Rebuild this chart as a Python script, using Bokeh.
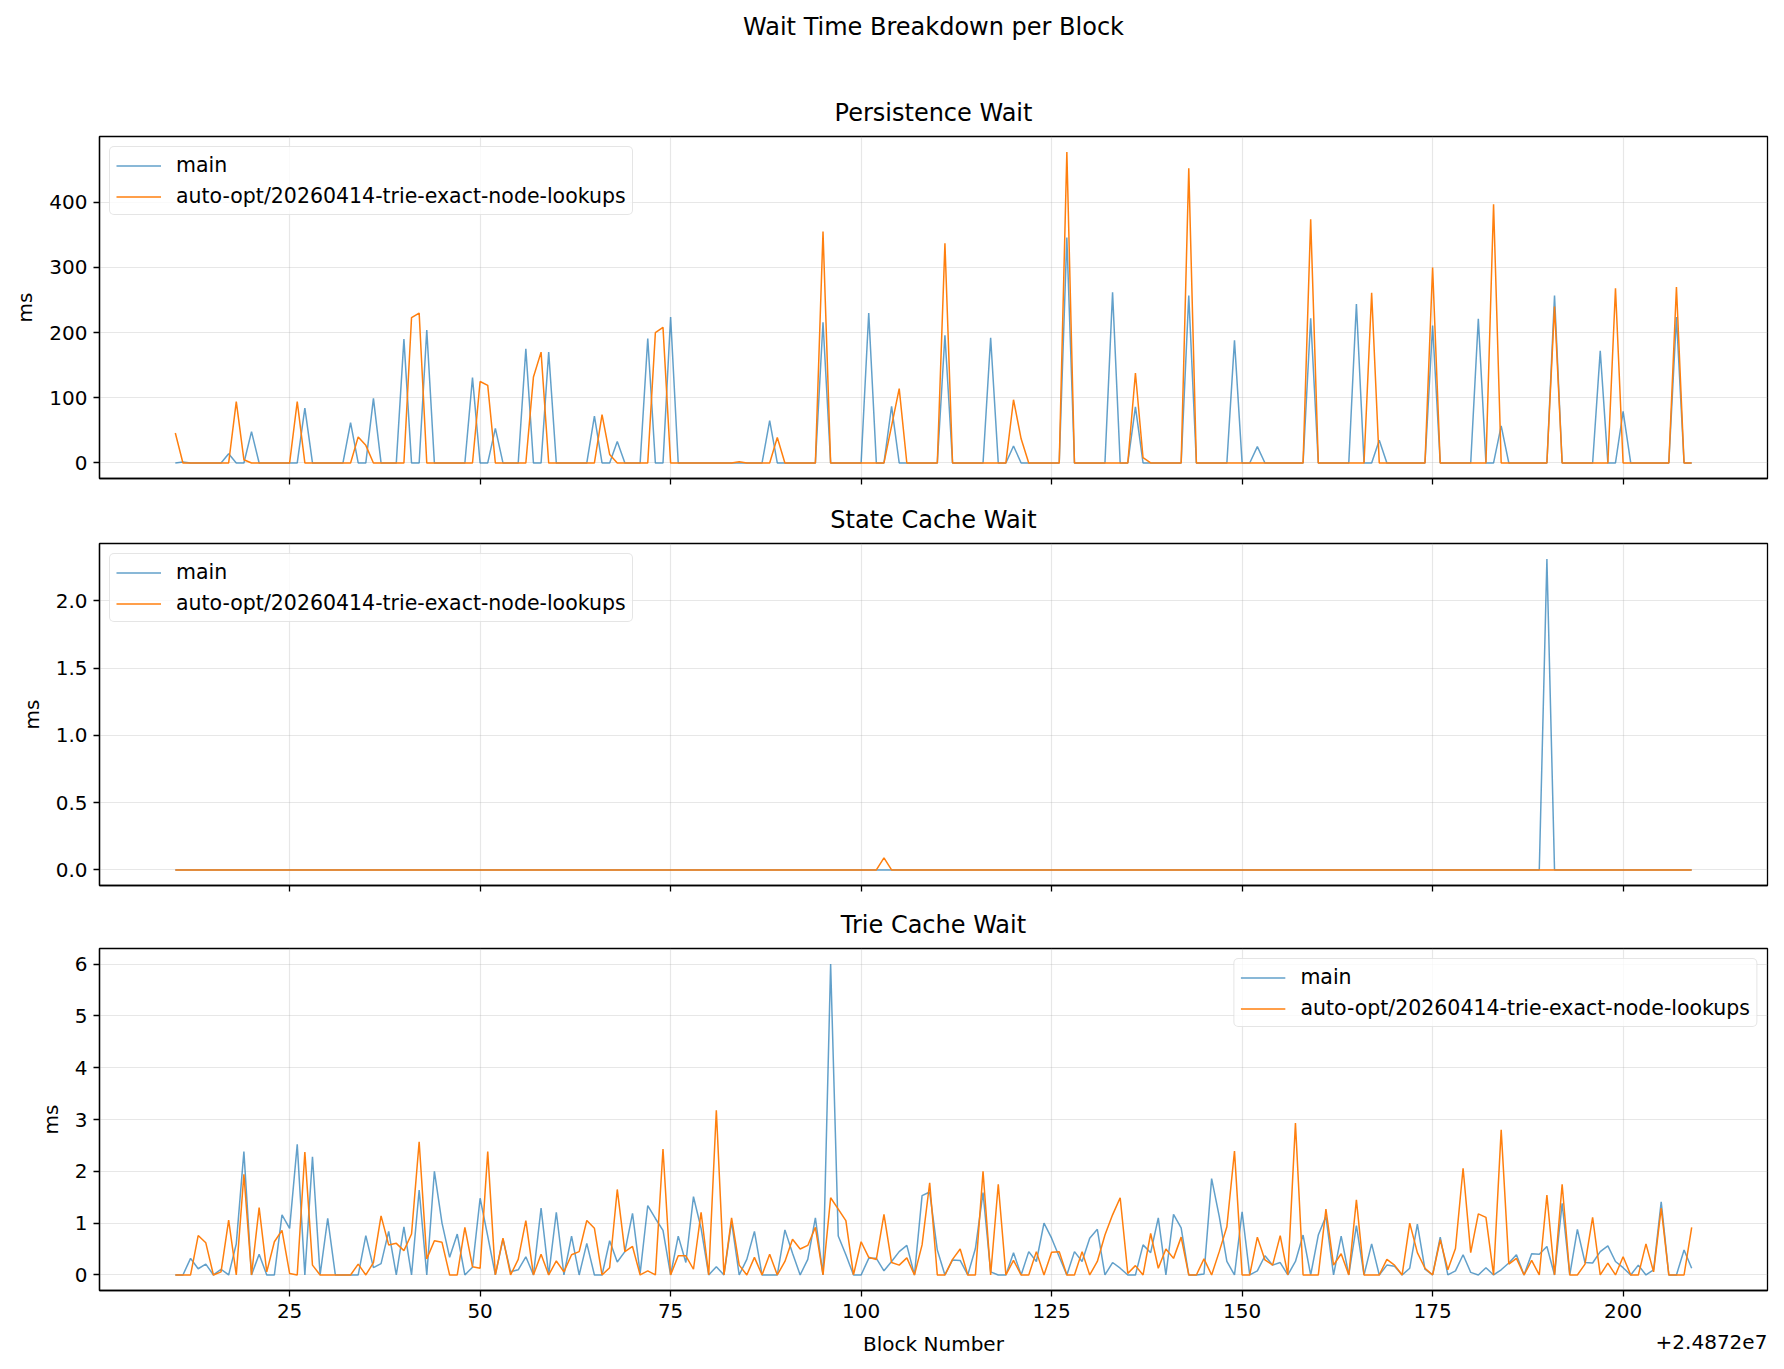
from bokeh.plotting import figure
from bokeh.models import (Range1d, FixedTicker, Title, NumeralTickFormatter, LinearAxis,
                          CustomJSTickFormatter)
from bokeh.layouts import column
from bokeh.embed import file_html
from bokeh.resources import INLINE

BASE = 24872000
blocks = list(range(24872010, 24872210))
series_names = ["main", "auto-opt/20260414-trie-exact-node-lookups"]
x_tick_values = [25, 50, 75, 100, 125, 150, 175, 200]
offset_text = "+2.4872e7"
suptitle = "Wait Time Breakdown per Block"

persist_main = [
    0, 1.5, 0, 0, 0, 0, 0, 14, 0, 0,
    48, 0, 0, 0, 0, 0, 0, 84, 0, 0,
    0, 0, 0, 62, 0, 0, 99, 0, 0, 0,
    190, 0, 0, 204, 0, 0, 0, 0, 0, 131,
    0, 0, 53, 0, 0, 0, 175, 0, 0, 170,
    0, 0, 0, 0, 0, 72, 0, 0, 33, 0,
    0, 0, 191, 0, 0, 224, 0, 0, 0, 0,
    0, 0, 0, 0, 0, 0, 0, 0, 65, 0,
    0, 0, 0, 0, 0, 216, 0, 0, 0, 0,
    0, 230, 0, 0, 87, 0, 0, 0, 0, 0,
    0, 196, 0, 0, 0, 0, 0, 192, 0, 0,
    26, 0, 0, 0, 0, 0, 0, 346, 0, 0,
    0, 0, 0, 262, 0, 0, 86, 0, 0, 0,
    0, 0, 0, 257, 0, 0, 0, 0, 0, 188,
    0, 0, 25, 0, 0, 0, 0, 0, 0, 222,
    0, 0, 0, 0, 0, 244, 0, 0, 35, 0,
    0, 0, 0, 0, 0, 211, 0, 0, 0, 0,
    0, 221, 0, 0, 57, 0, 0, 0, 0, 0,
    0, 257, 0, 0, 0, 0, 0, 172, 0, 0,
    79, 0, 0, 0, 0, 0, 0, 224, 0, 0,
]
persist_branch = [
    46, 0, 0, 0, 0, 0, 0, 0, 94, 5,
    0, 0, 0, 0, 0, 0, 94, 0, 0, 0,
    0, 0, 0, 0, 40, 27, 0, 0, 0, 0,
    0, 223, 230, 0, 0, 0, 0, 0, 0, 0,
    125, 119, 0, 0, 0, 0, 0, 132, 170, 0,
    0, 0, 0, 0, 0, 0, 74, 13, 0, 0,
    0, 0, 0, 200, 208, 0, 0, 0, 0, 0,
    0, 0, 0, 0, 2, 0, 0, 0, 0, 39,
    0, 0, 0, 0, 0, 355, 0, 0, 0, 0,
    0, 0, 0, 0, 57, 114, 0, 0, 0, 0,
    0, 337, 0, 0, 0, 0, 0, 0, 0, 0,
    97, 37, 0, 0, 0, 0, 0, 477, 0, 0,
    0, 0, 0, 0, 0, 0, 138, 8, 0, 0,
    0, 0, 0, 452, 0, 0, 0, 0, 0, 0,
    0, 0, 0, 0, 0, 0, 0, 0, 0, 374,
    0, 0, 0, 0, 0, 0, 0, 261, 0, 0,
    0, 0, 0, 0, 0, 300, 0, 0, 0, 0,
    0, 0, 0, 397, 0, 0, 0, 0, 0, 0,
    0, 240, 0, 0, 0, 0, 0, 0, 0, 268,
    0, 0, 0, 0, 0, 0, 0, 270, 0, 0,
]
state_main = [
    0, 0, 0, 0, 0, 0, 0, 0, 0, 0,
    0, 0, 0, 0, 0, 0, 0, 0, 0, 0,
    0, 0, 0, 0, 0, 0, 0, 0, 0, 0,
    0, 0, 0, 0, 0, 0, 0, 0, 0, 0,
    0, 0, 0, 0, 0, 0, 0, 0, 0, 0,
    0, 0, 0, 0, 0, 0, 0, 0, 0, 0,
    0, 0, 0, 0, 0, 0, 0, 0, 0, 0,
    0, 0, 0, 0, 0, 0, 0, 0, 0, 0,
    0, 0, 0, 0, 0, 0, 0, 0, 0, 0,
    0, 0, 0, 0, 0, 0, 0, 0, 0, 0,
    0, 0, 0, 0, 0, 0, 0, 0, 0, 0,
    0, 0, 0, 0, 0, 0, 0, 0, 0, 0,
    0, 0, 0, 0, 0, 0, 0, 0, 0, 0,
    0, 0, 0, 0, 0, 0, 0, 0, 0, 0,
    0, 0, 0, 0, 0, 0, 0, 0, 0, 0,
    0, 0, 0, 0, 0, 0, 0, 0, 0, 0,
    0, 0, 0, 0, 0, 0, 0, 0, 0, 0,
    0, 0, 0, 0, 0, 0, 0, 0, 0, 0,
    2.31, 0, 0, 0, 0, 0, 0, 0, 0, 0,
    0, 0, 0, 0, 0, 0, 0, 0, 0, 0,
]
state_branch = [
    0, 0, 0, 0, 0, 0, 0, 0, 0, 0,
    0, 0, 0, 0, 0, 0, 0, 0, 0, 0,
    0, 0, 0, 0, 0, 0, 0, 0, 0, 0,
    0, 0, 0, 0, 0, 0, 0, 0, 0, 0,
    0, 0, 0, 0, 0, 0, 0, 0, 0, 0,
    0, 0, 0, 0, 0, 0, 0, 0, 0, 0,
    0, 0, 0, 0, 0, 0, 0, 0, 0, 0,
    0, 0, 0, 0, 0, 0, 0, 0, 0, 0,
    0, 0, 0, 0, 0, 0, 0, 0, 0, 0,
    0, 0, 0, 0.09, 0, 0, 0, 0, 0, 0,
    0, 0, 0, 0, 0, 0, 0, 0, 0, 0,
    0, 0, 0, 0, 0, 0, 0, 0, 0, 0,
    0, 0, 0, 0, 0, 0, 0, 0, 0, 0,
    0, 0, 0, 0, 0, 0, 0, 0, 0, 0,
    0, 0, 0, 0, 0, 0, 0, 0, 0, 0,
    0, 0, 0, 0, 0, 0, 0, 0, 0, 0,
    0, 0, 0, 0, 0, 0, 0, 0, 0, 0,
    0, 0, 0, 0, 0, 0, 0, 0, 0, 0,
    0, 0, 0, 0, 0, 0, 0, 0, 0, 0,
    0, 0, 0, 0, 0, 0, 0, 0, 0, 0,
]
trie_main = [
    0, 0, 0.32, 0.12, 0.21, 0, 0.11, 0, 0.6, 2.38,
    0, 0.4, 0, 0, 1.16, 0.9, 2.52, 0, 2.28, 0,
    1.09, 0, 0, 0, 0, 0.76, 0.14, 0.22, 0.84, 0,
    0.93, 0, 1.64, 0, 2.0, 1.0, 0.34, 0.79, 0, 0.15,
    1.48, 0.75, 0, 0.69, 0.06, 0.1, 0.35, 0, 1.29, 0,
    1.21, 0, 0.75, 0, 0.61, 0, 0, 0.66, 0.25, 0.45,
    1.19, 0.03, 1.34, 1.09, 0.86, 0, 0.75, 0.24, 1.51, 0.9,
    0, 0.16, 0, 1.03, 0, 0.3, 0.84, 0, 0, 0,
    0.87, 0.42, 0, 0.3, 1.1, 0, 6.0, 0.75, 0.39, 0,
    0, 0.32, 0.32, 0.08, 0.26, 0.45, 0.57, 0, 1.53, 1.6,
    0.48, 0, 0.29, 0.28, 0, 0.51, 1.59, 0.06, 0, 0,
    0.43, 0, 0.45, 0.26, 1.0, 0.71, 0.35, 0, 0.45, 0.26,
    0.71, 0.88, 0, 0.24, 0.13, 0, 0, 0.58, 0.43, 1.1,
    0, 1.17, 0.91, 0, 0, 0.02, 1.86, 1.13, 0.26, 0,
    1.22, 0, 0.08, 0.37, 0.19, 0.24, 0, 0.26, 0.77, 0,
    0.77, 1.13, 0, 0.75, 0, 0.95, 0, 0.6, 0, 0.19,
    0.17, 0, 0.13, 0.98, 0.11, 0, 0.73, 0, 0.08, 0.39,
    0.05, 0, 0.14, 0, 0.1, 0.23, 0.39, 0, 0.41, 0.4,
    0.55, 0, 1.38, 0, 0.88, 0.24, 0.23, 0.45, 0.56, 0.26,
    0.14, 0, 0.19, 0, 0.1, 1.41, 0, 0, 0.48, 0.13,
]
trie_branch = [
    0, 0, 0, 0.76, 0.62, 0, 0.06, 1.06, 0, 1.94,
    0, 1.3, 0.06, 0.64, 0.86, 0.03, 0, 2.37, 0.19, 0,
    0, 0, 0, 0, 0.21, 0, 0.24, 1.14, 0.58, 0.61,
    0.47, 0.79, 2.57, 0.31, 0.66, 0.63, 0, 0, 0.92, 0.16,
    0.13, 2.38, 0, 0.71, 0, 0.3, 1.05, 0, 0.4, 0,
    0.27, 0.06, 0.39, 0.45, 1.05, 0.9, 0, 0.14, 1.65, 0.45,
    0.55, 0, 0.08, 0, 2.43, 0, 0.37, 0.37, 0.11, 1.21,
    0, 3.18, 0, 1.1, 0.19, 0, 0.34, 0, 0.4, 0,
    0.26, 0.69, 0.5, 0.57, 0.92, 0, 1.49, 1.27, 1.05, 0,
    0.64, 0.34, 0.3, 1.17, 0.24, 0.19, 0.33, 0, 0.58, 1.78,
    0, 0, 0.3, 0.5, 0, 0, 2.0, 0, 1.75, 0,
    0.28, 0, 0, 0.45, 0, 0.44, 0.45, 0, 0, 0.45,
    0, 0.26, 0.77, 1.16, 1.49, 0.03, 0.18, 0, 0.8, 0.13,
    0.5, 0.32, 0.73, 0, 0, 0.31, 0, 0.45, 0.93, 2.39,
    0, 0, 0.73, 0.29, 0.19, 0.76, 0, 2.93, 0, 0,
    0, 1.27, 0.19, 0.41, 0, 1.45, 0, 0, 0, 0.3,
    0.19, 0, 1.0, 0.43, 0.13, 0, 0.68, 0.1, 0.51, 2.06,
    0.43, 1.18, 1.11, 0, 2.8, 0.21, 0.32, 0, 0.28, 0,
    1.54, 0, 1.75, 0, 0, 0.21, 1.11, 0, 0.23, 0,
    0.35, 0, 0, 0.6, 0.06, 1.29, 0, 0, 0, 0.92,
]

panel_titles = ["Persistence Wait", "State Cache Wait", "Trie Cache Wait"]
y_ticks = [[0, 100, 200, 300, 400], [0, 0.5, 1.0, 1.5, 2.0], [0, 1, 2, 3, 4, 5, 6]]

FONT = "DejaVu Sans"
BLUE = "#1f77b4"
ORANGE = "#ff7f0e"
FRAME_W = 1668
FRAME_H = 342
TICK_FS = "20px"
LABEL_FS = "20px"
LEGEND_FS = "20.5px"
TITLE_FS = "24px"

span = blocks[-1] - blocks[0]
x_lo = blocks[0] - 0.05 * span
x_hi = blocks[-1] + 0.05 * span


def style_title(t, size, standoff):
    t.text_font = FONT
    t.text_font_size = size
    t.text_font_style = "normal"
    t.text_color = "black"
    t.align = "center"
    t.standoff = standoff


def make_panel(title, main, branch, yt, fmt, legend_loc, top_border, bottom_border, last, first=False):
    ymax = max(max(main), max(branch))
    pad = 0.05 * ymax
    p = figure(frame_width=FRAME_W, frame_height=FRAME_H,
               x_range=Range1d(x_lo, x_hi), y_range=Range1d(-pad, ymax + pad),
               output_backend="svg", toolbar_location=None,
               min_border_left=99, min_border_right=9,
               min_border_top=top_border, min_border_bottom=bottom_border)
    if first:
        # figure title is outermost; extra "above" panels stack outward from the frame
        p.title.text = suptitle
        style_title(p.title, TITLE_FS, 4)
        sub = Title(text=title)
        style_title(sub, TITLE_FS, 19)
        p.add_layout(sub, "above")
        spacer = Title(text=" ")
        style_title(spacer, "10px", 32)
        p.add_layout(spacer, "above")
    else:
        p.title.text = title
        style_title(p.title, TITLE_FS, 19)

    p.line(blocks, main, line_color=BLUE, line_alpha=0.7, line_width=1.5, legend_label=series_names[0])
    p.line(blocks, branch, line_color=ORANGE, line_alpha=1.0, line_width=1.5, legend_label=series_names[1])

    p.outline_line_color = "black"
    p.outline_line_width = 1.3
    p.background_fill_color = "white"
    p.border_fill_color = "white"

    p.xaxis.ticker = FixedTicker(ticks=[BASE + v for v in x_tick_values])
    p.xaxis.major_label_overrides = {BASE + v: str(v) for v in x_tick_values}
    p.yaxis.ticker = FixedTicker(ticks=yt)
    if fmt:
        p.yaxis.formatter = NumeralTickFormatter(format=fmt)

    for ax in (p.xaxis[0], p.yaxis[0]):
        ax.axis_line_color = "black"
        ax.axis_line_width = 1.3
        ax.major_tick_line_color = "black"
        ax.major_tick_line_width = 1.3
        ax.major_tick_out = 6
        ax.major_tick_in = 0
        ax.minor_tick_line_color = None
        ax.major_label_text_font = FONT
        ax.major_label_text_font_size = TICK_FS
        ax.major_label_text_color = "black"
        ax.axis_label_text_font = FONT
        ax.axis_label_text_font_size = LABEL_FS
        ax.axis_label_text_font_style = "normal"
        ax.axis_label_text_color = "black"
        ax.major_label_standoff = 6
    p.yaxis.axis_label = "ms"
    p.yaxis.axis_label_standoff = 9

    if last:
        p.xaxis.major_label_standoff = 7
        p.xaxis.axis_label = "Block Number"
        p.xaxis.axis_label_standoff = 11
        # offset text of the x axis, right-aligned with the frame
        text_w_px = 112.0
        x_off = x_hi - (text_w_px / 2.0) * (x_hi - x_lo) / FRAME_W
        off_axis = LinearAxis(ticker=FixedTicker(ticks=[x_off]),
                              formatter=CustomJSTickFormatter(code="return '%s';" % offset_text))
        off_axis.axis_line_color = None
        off_axis.major_tick_line_color = None
        off_axis.minor_tick_line_color = None
        off_axis.major_tick_out = 0
        off_axis.major_tick_in = 0
        off_axis.major_label_standoff = -24
        off_axis.major_label_text_font = FONT
        off_axis.major_label_text_font_size = TICK_FS
        off_axis.major_label_text_color = "black"
        p.add_layout(off_axis, "below")
    else:
        p.xaxis.major_label_text_font_size = "1px"
        p.xaxis.major_label_text_color = None
        p.xaxis.major_label_standoff = 0

    for g in (p.xgrid[0], p.ygrid[0]):
        g.grid_line_color = "#b0b0b0"
        g.grid_line_alpha = 0.3
        g.grid_line_width = 1.2

    lg = p.legend[0]
    lg.location = legend_loc
    lg.margin = 10
    lg.padding = 6
    lg.spacing = 7
    lg.glyph_width = 45
    lg.glyph_height = 23
    lg.label_height = 23
    lg.label_standoff = 15
    lg.label_text_font = FONT
    lg.label_text_font_size = LEGEND_FS
    lg.label_text_color = "black"
    lg.border_line_color = "#cccccc"
    lg.border_line_width = 1.5
    lg.background_fill_color = "white"
    lg.background_fill_alpha = 0.8
    if "border_radius" in lg.properties():
        lg.border_radius = 5
    return p


p1 = make_panel(panel_titles[0], persist_main, persist_branch, y_ticks[0], None, "top_left", 136, 12, False, first=True)
p2 = make_panel(panel_titles[1], state_main, state_branch, y_ticks[1], "0.0", "top_left", 53, 12, False)
p3 = make_panel(panel_titles[2], trie_main, trie_branch, y_ticks[2], None, "top_right", 51, 72, True)

layout = column(p1, p2, p3)
open("out.html", "w").write(file_html(layout, INLINE))
